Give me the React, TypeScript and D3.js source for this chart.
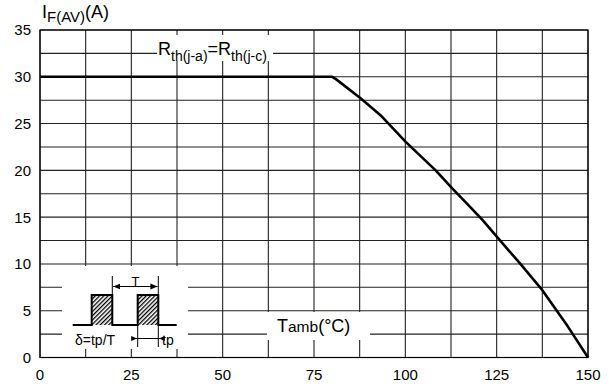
import React from "react";
import * as d3 from "d3";

const tempC = [0, 80, 81, 87.75, 93.2, 100.1, 108.3, 112.9, 117, 121.1, 125.5, 131.5, 137.5, 144.5, 150];
const currentA = [30, 30, 29.75, 27.7, 25.9, 23.05, 20.0, 18.05, 16.4, 14.7, 12.7, 10.0, 7.2, 3.3, 0];
const xTickLabels = [0, 25, 50, 75, 100, 125, 150];
const yTickLabels = [0, 5, 10, 15, 20, 25, 30, 35];
const xGrid = d3.range(0, 150.01, 12.5);
const yGrid = d3.range(0, 35.01, 2.5);

const W = 610, H = 391;
const FONT = "'Liberation Sans', Arial, sans-serif";

export default function App() {
  const x = d3.scaleLinear().domain([0, 150]).range([40, 588]);
  const y = d3.scaleLinear().domain([0, 35]).range([357.5, 30]);
  const pts = tempC.map((t, i) => [t, currentA[i]] as [number, number]);
  const line = d3.line<[number, number]>().x(d => x(d[0])).y(d => y(d[1])).curve(d3.curveLinear);

  // inset diagram origin
  const ox = 62, oy = 266;
  return (
    <svg width={W} height={H} style={{ position: "absolute", left: 0, top: 0, background: "#fff" }} fontFamily={FONT}>
      <defs>
        <pattern id="hatch" patternUnits="userSpaceOnUse" width="3" height="3" patternTransform="rotate(45)">
          <rect x="0" y="0" width="1.3" height="3" fill="#000" />
        </pattern>
        <marker id="arr" viewBox="0 0 10 10" refX="10" refY="5" markerWidth="6" markerHeight="6" orient="auto-start-reverse">
          <path d="M0,1 L10,5 L0,9 z" fill="#000" />
        </marker>
      </defs>
      <rect x={0} y={0} width={W} height={H} fill="#fff" />
      {/* grid */}
      {xGrid.map(v => (
        <line key={"gx" + v} x1={x(v)} x2={x(v)} y1={y(0)} y2={y(35)} stroke="#222" strokeWidth={1.1} />
      ))}
      {yGrid.map(v => (
        <line key={"gy" + v} x1={x(0)} x2={x(150)} y1={y(v)} y2={y(v)} stroke="#222" strokeWidth={1.1} />
      ))}
      <rect x={x(0)} y={y(35)} width={x(150) - x(0)} height={y(0) - y(35)} fill="none" stroke="#000" strokeWidth={1.2} />

      {/* label boxes */}
      <rect x={157} y={35} width={116} height={26} fill="#fff" />
      <rect x={267} y={312} width={103} height={28} fill="#fff" />
      <rect x={62} y={266} width={126} height={83} fill="#fff" />

      {/* curve */}
      <path d={line(pts) || ""} fill="none" stroke="#000" strokeWidth={2.6} strokeLinejoin="round" />

      {/* tick labels */}
      {yTickLabels.map(v => (
        <text key={"yt" + v} x={31} y={y(v)} dy="0.36em" textAnchor="end" fontSize={15} fill="#000">{v}</text>
      ))}
      {xTickLabels.map(v => (
        <text key={"xt" + v} x={x(v)} y={380} textAnchor="middle" fontSize={15} fill="#000">{v}</text>
      ))}

      {/* y title */}
      <text x={42} y={18} fontSize={18} fill="#000">
        I<tspan fontSize={15} dy={4}>F(AV)</tspan><tspan fontSize={18} dy={-4}>(A)</tspan>
      </text>

      {/* R label */}
      <text x={158} y={55} fontSize={18} fill="#000">
        R<tspan fontSize={14} dy={6}>th(j-a)</tspan><tspan fontSize={18} dy={-6}>=R</tspan><tspan fontSize={14} dy={6}>th(j-c)</tspan>
      </text>

      {/* Tamb label */}
      <text x={277} y={331.5} fontSize={18} fill="#000">
        T<tspan fontSize={15.5}>amb</tspan>(°C)
      </text>

      {/* inset pulse diagram */}
      <g fill="none" stroke="#000">
        <rect x={ox + 29.7} y={oy + 29} width={20.6} height={30} fill="url(#hatch)" stroke="none" />
        <rect x={ox + 75.7} y={oy + 29} width={20.6} height={30} fill="url(#hatch)" stroke="none" />
        <path d={`M${ox + 10.7},${oy + 59} H${ox + 29.7} V${oy + 29} H${ox + 50.3} V${oy + 59} H${ox + 75.7} V${oy + 29} H${ox + 96.3} V${oy + 59} H${ox + 114.7}`} strokeWidth={2} />
        <line x1={ox + 50.3} x2={ox + 50.3} y1={oy + 10} y2={oy + 29} strokeWidth={1} />
        <line x1={ox + 96.3} x2={ox + 96.3} y1={oy + 10} y2={oy + 29} strokeWidth={1} />
        <line x1={ox + 51} x2={ox + 95.6} y1={oy + 20.5} y2={oy + 20.5} strokeWidth={1.2} markerStart="url(#arr)" markerEnd="url(#arr)" />
        <line x1={ox + 75.7} x2={ox + 75.7} y1={oy + 59} y2={oy + 81} strokeWidth={1} />
        <line x1={ox + 96.3} x2={ox + 96.3} y1={oy + 59} y2={oy + 81} strokeWidth={1} />
        <line x1={ox + 75.7} x2={ox + 96.3} y1={oy + 72.5} y2={oy + 72.5} strokeWidth={1} />
        <line x1={ox + 70.5} x2={ox + 75.2} y1={oy + 72.5} y2={oy + 72.5} strokeWidth={1} markerEnd="url(#arr)" />
        <line x1={ox + 101.5} x2={ox + 96.8} y1={oy + 72.5} y2={oy + 72.5} strokeWidth={1} markerEnd="url(#arr)" />
      </g>
      <text x={ox + 73.5} y={oy + 20} textAnchor="middle" fontSize={13} fill="#000">T</text>
      <text x={ox + 13} y={oy + 79} fontSize={14} fill="#000">δ=tp/T</text>
      <text x={ox + 100} y={oy + 79} fontSize={14} fill="#000">tp</text>
    </svg>
  );
}
